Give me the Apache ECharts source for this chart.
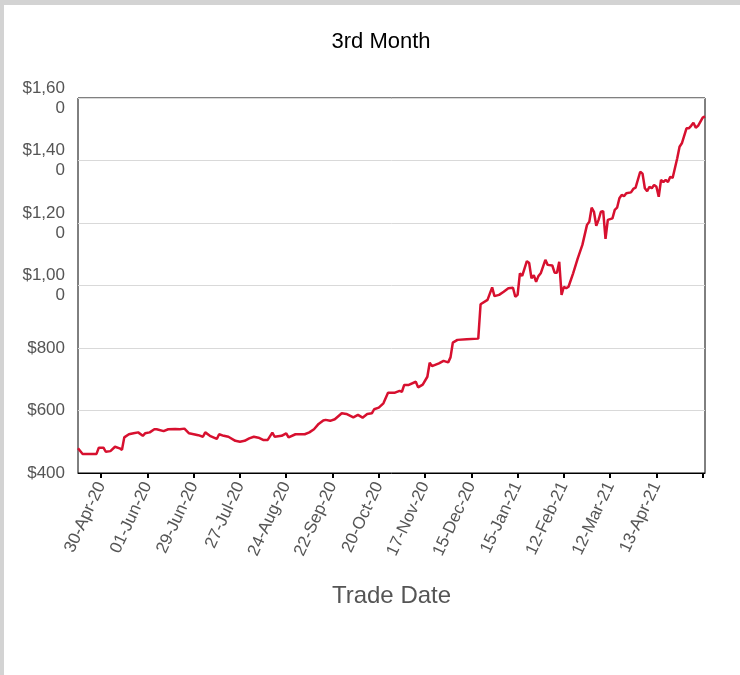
<!DOCTYPE html>
<html>
<head>
<meta charset="utf-8">
<script src="https://cdn.jsdelivr.net/npm/echarts@6/dist/echarts.min.js"></script>
<style>
html,body{margin:0;padding:0;background:#fff;}
#chart{width:740px;height:675px;}
</style>
</head>
<body>
<div id="chart"></div>
<script>
// Trading-day index (0 = first day shown) and 3rd-month price at that day
const tradeDay = [0,2,8,9,11,12,14,16,18,19,20,22,24,26,28,29,31,33,34,37,39,42,44,46,48,50,52,54,55,57,60,61,63,65,68,70,72,74,76,78,80,82,84,85,88,90,91,94,98,100,102,104,106,107,109,111,114,116,119,121,123,125,127,128,130,132,134,137,139,140,141,143,146,147,149,151,152,153,156,158,160,161,162,164,168,173,174,177,179,180,182,184,186,188,189,190,191,192,194,195,196,197,198,199,200,202,203,205,206,207,208,209,210,211,212,214,216,218,220,221,222,223,224,225,226,227,228,229,231,232,233,234,235,236,237,239,240,241,243,244,245,246,247,248,249,250,251,252,253,254,255,256,257,259,260,261,263,264,265,266,267,268,270,271];
const price = [479,461,461,481,481,468,470,484,479,474,514,524,527,530,519,527,530,540,540,534,540,541,540,542,527,524,521,516,530,519,509,524,519,516,503,500,503,511,516,513,506,506,529,516,519,527,514,524,524,530,540,557,568,570,567,572,591,589,578,586,577,589,591,604,609,623,657,657,663,660,682,682,692,674,683,708,753,742,751,759,754,770,817,826,828,830,940,954,994,966,970,980,991,993,964,970,1039,1031,1078,1072,1023,1033,1012,1030,1039,1082,1066,1064,1041,1041,1076,970,996,991,996,1039,1087,1130,1194,1204,1249,1236,1191,1210,1236,1238,1149,1210,1215,1242,1249,1279,1290,1286,1295,1298,1309,1313,1364,1358,1311,1302,1316,1311,1322,1316,1284,1338,1331,1338,1331,1348,1344,1407,1444,1455,1503,1503,1511,1521,1505,1511,1537,1541];
// x tick positions (trading-day index) and their labels
const tickDays = [10,30,50,70,90,110,130,150,170,190,210,230,250,270];
const tickLabels = ['30-Apr-20','01-Jun-20','29-Jun-20','27-Jul-20','24-Aug-20','22-Sep-20','20-Oct-20','17-Nov-20','15-Dec-20','15-Jan-21','12-Feb-21','12-Mar-21','13-Apr-21',''];
const yMin = 400, yMax = 1600, yStep = 200;

const chart = echarts.init(document.getElementById('chart'), null, {renderer:'canvas'});
const FONT = '"Liberation Sans", Arial, sans-serif';
chart.setOption({
  backgroundColor: '#fff',
  animation: false,
  title: {
    text: '3rd Month',
    left: 376, top: 26,
    textAlign: 'center',
    textStyle: {fontFamily: FONT, fontSize: 22, fontWeight: 'normal', color: '#000'}
  },
  graphic: [
    {type:'rect', left:0, top:0, shape:{width:740, height:5}, style:{fill:'#d3d3d3'}},
    {type:'rect', left:0, top:0, shape:{width:4, height:675}, style:{fill:'#d3d3d3'}}
  ],
  grid: {left:78, right:35, top:98, bottom:202, show:true, borderColor:'#000', borderWidth:1, backgroundColor:'transparent'},
  xAxis: {
    type: 'value', min: 0, max: 271,
    name: 'Trade Date', nameLocation: 'middle', nameGap: 111,
    nameTextStyle: {fontFamily: FONT, fontSize: 24, color: '#555'},
    axisLine: {show: true, lineStyle: {color: '#000', width: 1}},
    axisTick: {show: true, customValues: tickDays, length: 5, lineStyle: {color: '#000', width: 2}},
    axisLabel: {
      customValues: tickDays.slice(0, 13),
      rotate: 65, margin: 10,
      fontFamily: FONT, fontSize: 17, color: '#555',
      formatter: function (v) { const k = tickDays.indexOf(Math.round(v)); return k >= 0 ? tickLabels[k] : ''; }
    },
    splitLine: {show: false}
  },
  yAxis: {
    type: 'value', min: yMin, max: yMax, interval: yStep,
    axisLine: {show: false}, axisTick: {show: false},
    axisLabel: {
      margin: 13, fontFamily: FONT, fontSize: 17, color: '#555', lineHeight: 20,
      width: 46, overflow: 'breakAll', align: 'right',
      formatter: function (v) { return '$' + v.toLocaleString('en-US'); }
    },
    splitLine: {show: true, lineStyle: {color: '#d9d9d9', width: 1}}
  },
  series: [{
    type: 'line',
    data: tradeDay.map((d, i) => [d, price[i]]),
    showSymbol: false,
    lineStyle: {color: '#d7102f', width: 2.5},
    itemStyle: {color: '#d7102f'}
  }]
});
</script>
</body>
</html>
